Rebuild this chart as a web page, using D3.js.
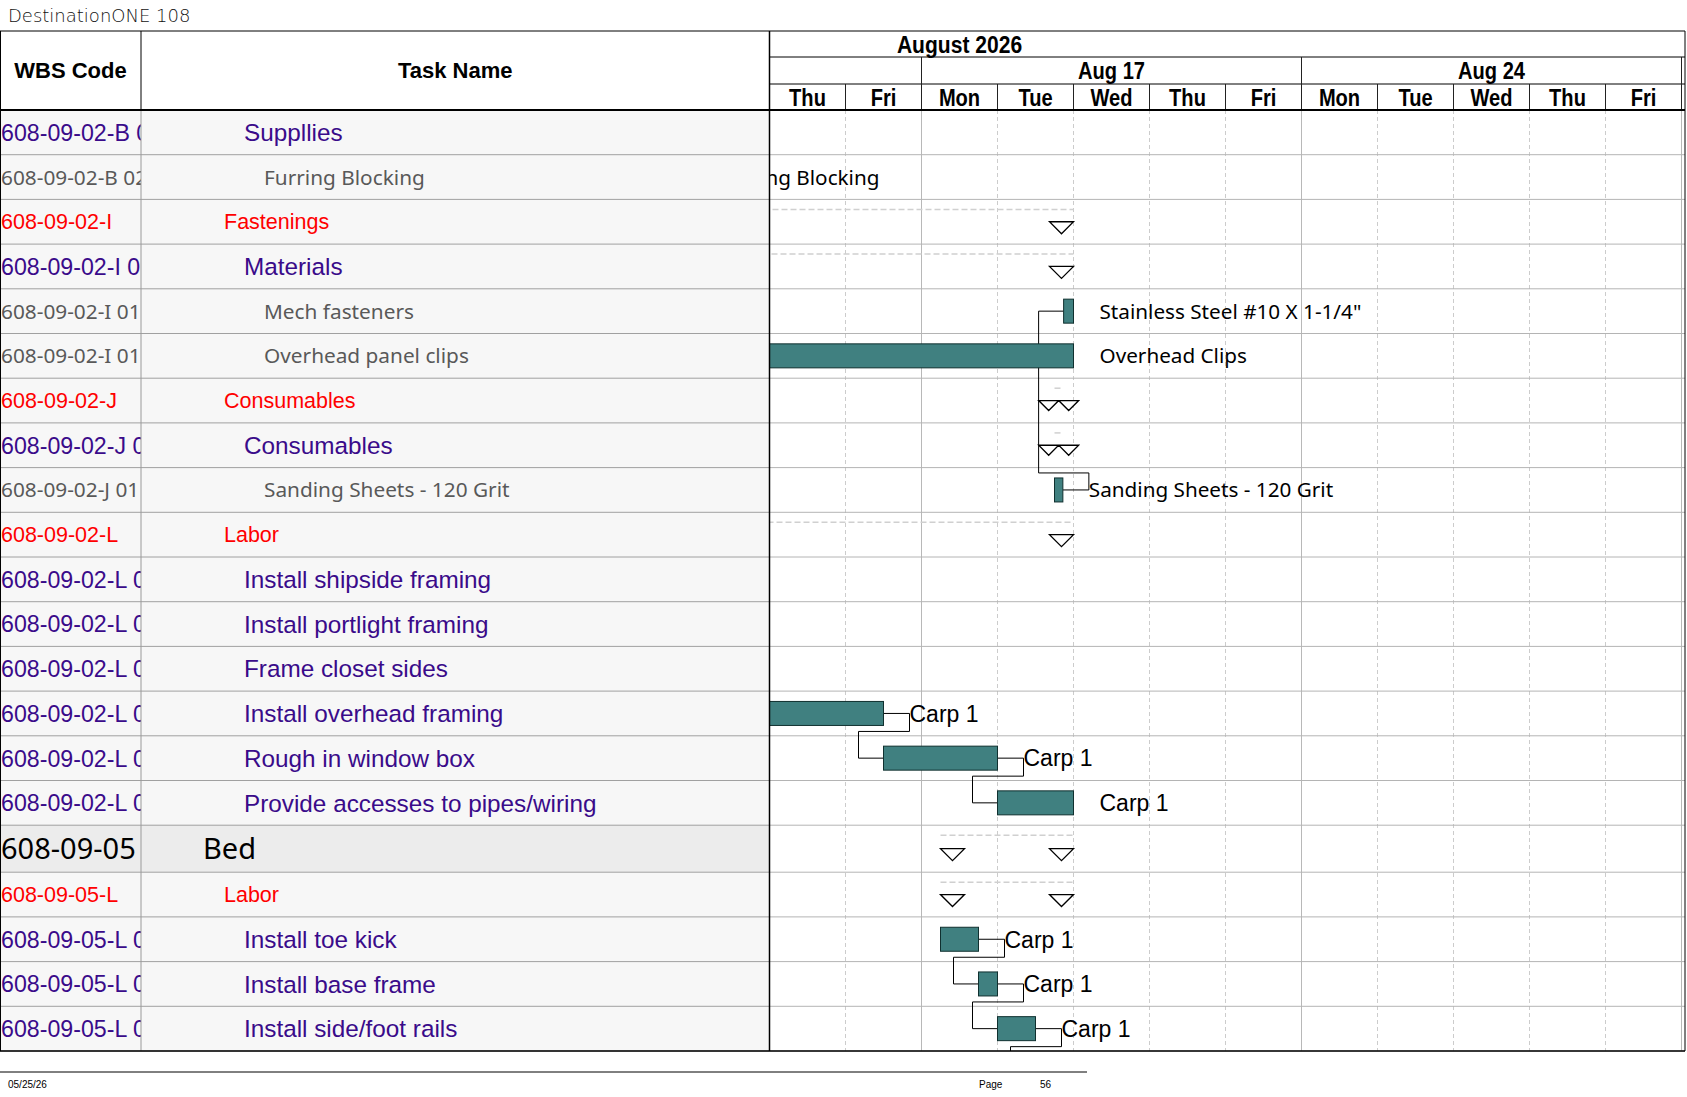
<!DOCTYPE html>
<meta charset="utf-8">
<script src="https://d3js.org/d3.v7.min.js"></script>
<style>
  body { margin: 0; background: #fff; }
</style>
<div id="chart"></div>
<script>

// page data
const pageTitle = "DestinationONE 108";
const printDate = "05/25/26";
const pageLabel = "Page";
const pageNumber = "56";

// timescale (working days only, weekends hidden)
const workDays = ["2026-08-13", "2026-08-14",
  "2026-08-17", "2026-08-18", "2026-08-19", "2026-08-20", "2026-08-21",
  "2026-08-24", "2026-08-25", "2026-08-26", "2026-08-27", "2026-08-28"];
const monthLabel = "August 2026";
const monthLabelDay = 2.5;

// table rows
const wbsCodes = [
  "608-09-02-B 01", "608-09-02-B 02", "608-09-02-I", "608-09-02-I 01",
  "608-09-02-I 01 01", "608-09-02-I 01 02", "608-09-02-J", "608-09-02-J 01",
  "608-09-02-J 01 01", "608-09-02-L", "608-09-02-L 01", "608-09-02-L 02",
  "608-09-02-L 03", "608-09-02-L 04", "608-09-02-L 05", "608-09-02-L 06",
  "608-09-05", "608-09-05-L", "608-09-05-L 01", "608-09-05-L 02", "608-09-05-L 03"];
const taskNames = [
  "Suppllies", "Furring Blocking", "Fastenings", "Materials",
  "Mech fasteners", "Overhead panel clips", "Consumables", "Consumables",
  "Sanding Sheets - 120 Grit", "Labor", "Install shipside framing", "Install portlight framing",
  "Frame closet sides", "Install overhead framing", "Rough in window box", "Provide accesses to pipes/wiring",
  "Bed", "Labor", "Install toe kick", "Install base frame", "Install side/foot rails"];
const outlineLevels = [4, 5, 3, 4, 5, 5, 3, 4, 5, 3, 4, 4, 4, 4, 4, 4, 2, 3, 4, 4, 4];

// task bars: start / finish in working days from Thu Aug 13
const barRows   = [1, 4, 5, 8, 13, 14, 15, 18, 19, 20, 21];
const barStarts = [-1.5, 3.87, -4, 3.75, -1.5, 1.5, 3.0, 2.25, 2.75, 3.0, 3.5];
const barEnds   = [-1.0, 4.0, 4.0, 3.86, 1.5, 3.0, 4.0, 2.75, 3.0, 3.5, 4.0];
const barLabels = ["Furring Blocking", "Stainless Steel #10 X 1-1/4\"", "Overhead Clips",
  "Sanding Sheets - 120 Grit", "Carp 1", "Carp 1", "Carp 1", "Carp 1", "Carp 1", "Carp 1", "Carp 1"];

// summary rows
const summaryRows   = [2, 3, 6, 7, 9, 16, 17];
const summaryStarts = [-6, -4, 3.75, 3.75, -5, 2.25, 2.25];
const summaryEnds   = [4, 4, 3.86, 3.86, 4, 4, 4];

// dependencies (bar index -> bar index)
const linkFrom = [1, 4, 5, 7, 8, 9];
const linkTo   = [3, 5, 6, 8, 9, 10];
const linkType = ["SF", "FS", "FS", "FS", "FS", "FS"];


const W = 1687, H = 1097;
const tableTop = 31, headerBottom = 110, tableBottom = 1051;
const codeRight = 141, nameRight = 769.5, ganttRight = 1685;
const arial = "'Liberation Sans', Arial, sans-serif";
const calibri = "'Noto Sans', sans-serif";

const svg = d3.select("#chart").append("svg")
  .attr("width", W).attr("height", H)
  .style("font-family", arial);

const parse = d3.timeParse("%Y-%m-%d");
const dates = workDays.map(parse);

const x = d3.scaleLinear()
  .domain([0, workDays.length])
  .range([nameRight, 1681.5]);

// row geometry
const rowH = outlineLevels.map(l => l === 2 ? 47 : 44.7);
rowH.push(44.7); // next page row
const rowTop = [headerBottom];
rowH.forEach((h, i) => rowTop.push(rowTop[i] + h));
const cy = r => rowTop[r] + rowH[r] / 2;

const defs = svg.append("defs");
function clip(id, x0, y0, w, h) {
  defs.append("clipPath").attr("id", id)
    .append("rect").attr("x", x0).attr("y", y0).attr("width", w).attr("height", h);
}
clip("clipCode", 0, headerBottom, codeRight, tableBottom - headerBottom);
clip("clipName", codeRight, headerBottom, nameRight - codeRight, tableBottom - headerBottom);
clip("clipGantt", nameRight, headerBottom, ganttRight - nameRight, tableBottom - headerBottom);
clip("clipHead", nameRight, tableTop, ganttRight - nameRight, headerBottom - tableTop);

// title
svg.append("text")
  .attr("x", 8).attr("y", 22)
  .style("font-family", "'DejaVu Sans', sans-serif")
  .style("font-weight", 200)
  .style("font-size", "18px")
  .attr("fill", "#111")
  .text(pageTitle);

// ---- left table ----
const rows = d3.range(outlineLevels.length);

svg.append("g").selectAll("rect")
  .data(rows)
  .join("rect")
  .attr("x", 0).attr("width", nameRight)
  .attr("y", d => rowTop[d]).attr("height", d => rowH[d])
  .attr("fill", d => outlineLevels[d] === 2 ? "#ececec" : "#f7f7f7");

const levelColor = {2: "#000", 3: "#ff0000", 4: "#3a0b8a", 5: "#595959"};
const nameSize = {2: 29, 3: 21.5, 4: 24.3, 5: 20.8};
const codeSize = {2: 29, 3: 21.5, 4: 23.2, 5: 20.8};

function textStyle(sel, sizes) {
  sel.attr("fill", d => levelColor[outlineLevels[d]])
    .style("font-family", d => outlineLevels[d] === 2 || outlineLevels[d] === 5 ? calibri : arial)
    .style("font-size", d => sizes[outlineLevels[d]] + "px");
}

svg.append("g").attr("clip-path", "url(#clipCode)")
  .selectAll("text")
  .data(rows)
  .join("text")
  .attr("x", 1)
  .attr("y", d => cy(d))
  .attr("dy", "0.36em")
  .call(textStyle, codeSize)
  .text(d => wbsCodes[d]);

const indent = {2: 203, 3: 224, 4: 244, 5: 264};
svg.append("g").attr("clip-path", "url(#clipName)")
  .selectAll("text")
  .data(rows)
  .join("text")
  .attr("x", d => indent[outlineLevels[d]])
  .attr("y", d => cy(d))
  .attr("dy", "0.36em")
  .call(textStyle, nameSize)
  .text(d => taskNames[d]);

// left table row lines
svg.append("g").selectAll("line")
  .data(rows)
  .join("line")
  .attr("x1", 0).attr("x2", nameRight)
  .attr("y1", d => rowTop[d + 1]).attr("y2", d => rowTop[d + 1])
  .attr("stroke", "#a0a0a0");

svg.append("line")
  .attr("x1", codeRight).attr("x2", codeRight)
  .attr("y1", headerBottom).attr("y2", tableBottom)
  .attr("stroke", "#9a9a9a");

// ---- gantt grid ----
const grid = svg.append("g");
const boundaries = d3.range(1, workDays.length + 1);
const isMonday = i => i < dates.length ? dates[i].getDay() === 1 : true;

grid.selectAll("line.v")
  .data(boundaries)
  .join("line")
  .attr("class", "v")
  .attr("x1", d => x(d)).attr("x2", d => x(d))
  .attr("y1", headerBottom).attr("y2", tableBottom)
  .attr("stroke", d => isMonday(d) ? "#b8b8b8" : "#cccccc")
  .attr("stroke-dasharray", d => isMonday(d) ? null : "4,3");

grid.selectAll("line.h")
  .data(rows)
  .join("line")
  .attr("class", "h")
  .attr("x1", nameRight).attr("x2", ganttRight)
  .attr("y1", d => rowTop[d + 1]).attr("y2", d => rowTop[d + 1])
  .attr("stroke", "#b4b4b4");

const gantt = svg.append("g").attr("clip-path", "url(#clipGantt)");

// summaries
const summaries = summaryRows.map((r, i) => ({row: r, s: summaryStarts[i], f: summaryEnds[i]}));
gantt.append("g").selectAll("line")
  .data(summaries)
  .join("line")
  .attr("x1", d => x(d.s)).attr("x2", d => x(d.f))
  .attr("y1", d => rowTop[d.row] + 10).attr("y2", d => rowTop[d.row] + 10)
  .attr("stroke", "#d0d0d0")
  .attr("stroke-width", 1.5)
  .attr("stroke-dasharray", "6,3");

function tri(x0, w, y0) {
  return `M${x0},${y0}H${x0 + w}L${x0 + w / 2},${y0 + w / 2}Z`;
}
gantt.append("g").selectAll("path")
  .data(summaries)
  .join("path")
  .attr("d", d => {
    const x0 = x(d.s), x1 = x(d.f), y0 = cy(d.row);
    if (x1 - x0 >= 48) return tri(x0, 24, y0) + tri(x1 - 24, 24, y0);
    const m = (x0 + x1) / 2;
    return tri(m - 20, 20, y0) + tri(m, 20, y0);
  })
  .attr("fill", "#fff")
  .attr("stroke", "#000")
  .attr("stroke-width", 1.3);

// bars
const bars = barRows.map((r, i) => ({row: r, s: barStarts[i], f: barEnds[i], label: barLabels[i]}));

// links
const links = linkFrom.map((a, i) => ({p: bars[a], q: bars[linkTo[i]], type: linkType[i]}));
gantt.append("g").selectAll("path")
  .data(links)
  .join("path")
  .attr("d", d => {
    const yp = cy(d.p.row), yq = cy(d.q.row);
    if (d.type === "SF") {
      const x0 = x(d.p.s), xf = x(d.q.f);
      return `M${x0},${yp}H${x0 - 25}V${yq - 17}H${xf + 26}V${yq}H${xf}`;
    }
    const x1 = x(d.p.f), xs = x(d.q.s);
    return `M${x1},${yp}H${x1 + 26}V${yp + 18}H${xs - 25}V${yq}H${xs}`;
  })
  .attr("fill", "none")
  .attr("stroke", "#000")
  .attr("stroke-width", 1);

gantt.append("g").selectAll("rect")
  .data(bars)
  .join("rect")
  .attr("x", d => x(d.s))
  .attr("width", d => x(d.f) - x(d.s))
  .attr("y", d => cy(d.row) - 12)
  .attr("height", 24)
  .attr("fill", "#408080")
  .attr("stroke", "#10302f")
  .attr("stroke-width", 1);

gantt.append("g").selectAll("text")
  .data(bars)
  .join("text")
  .attr("x", d => x(d.f) + 26)
  .attr("y", d => cy(d.row))
  .attr("dy", "0.36em")
  .attr("fill", "#000")
  .style("font-family", d => outlineLevels[d.row] === 5 ? calibri : arial)
  .style("font-size", d => outlineLevels[d.row] === 5 ? "20.7px" : "23px")
  .text(d => d.label);

// ---- header ----
const head = svg.append("g");
head.append("text")
  .attr("x", codeRight / 2).attr("y", 70).attr("dy", "0.36em")
  .attr("text-anchor", "middle")
  .style("font-weight", "bold").style("font-size", "22px")
  .text("WBS Code");
head.append("text")
  .attr("x", (codeRight + nameRight) / 2).attr("y", 70).attr("dy", "0.36em")
  .attr("text-anchor", "middle")
  .style("font-weight", "bold").style("font-size", "22px")
  .text("Task Name");

const timescale = svg.append("g").attr("clip-path", "url(#clipHead)");
const narrow = (sel) => sel
  .attr("text-anchor", "middle")
  .style("font-weight", "bold")
  .style("font-size", "24.5px");

// month tier
timescale.append("text")
  .attr("transform", `translate(${x(monthLabelDay)},44) scale(0.86,1)`)
  .attr("dy", "0.36em")
  .call(narrow)
  .text(monthLabel);

// week tier
const fmtWeek = d3.timeFormat("%b %-d");
const weekStarts = d3.range(dates.length).filter(i => dates[i].getDay() === 1);
timescale.selectAll("text.week")
  .data(weekStarts)
  .join("text")
  .attr("class", "week")
  .attr("transform", d => `translate(${x(d + 2.5)},70.5) scale(0.82,1)`)
  .attr("dy", "0.36em")
  .call(narrow)
  .text(d => fmtWeek(dates[d]));

timescale.selectAll("line.week")
  .data(weekStarts.concat([dates.length]))
  .join("line")
  .attr("class", "week")
  .attr("x1", d => x(d)).attr("x2", d => x(d))
  .attr("y1", 57).attr("y2", 84)
  .attr("stroke", "#222");

// day tier
const fmtDay = d3.timeFormat("%a");
timescale.selectAll("text.day")
  .data(d3.range(dates.length))
  .join("text")
  .attr("class", "day")
  .attr("transform", d => `translate(${x(d + 0.5)},97) scale(0.82,1)`)
  .attr("dy", "0.36em")
  .call(narrow)
  .text(d => fmtDay(dates[d]));

timescale.selectAll("line.day")
  .data(boundaries)
  .join("line")
  .attr("class", "day")
  .attr("x1", d => x(d)).attr("x2", d => x(d))
  .attr("y1", 84).attr("y2", headerBottom)
  .attr("stroke", "#222");

[57, 84].forEach(yy => {
  head.append("line")
    .attr("x1", nameRight).attr("x2", ganttRight)
    .attr("y1", yy).attr("y2", yy)
    .attr("stroke", "#000");
});

// ---- frame ----
const frame = svg.append("g").attr("stroke", "#000").attr("fill", "none");
frame.append("line").attr("x1", 0).attr("x2", ganttRight).attr("y1", tableTop).attr("y2", tableTop);
frame.append("line").attr("x1", 0).attr("x2", ganttRight).attr("y1", headerBottom).attr("y2", headerBottom)
  .attr("stroke-width", 2);
frame.append("line").attr("x1", 0).attr("x2", ganttRight).attr("y1", tableBottom).attr("y2", tableBottom)
  .attr("stroke-width", 1.5);
frame.append("line").attr("x1", 0.5).attr("x2", 0.5).attr("y1", tableTop).attr("y2", tableBottom);
frame.append("line").attr("x1", codeRight).attr("x2", codeRight).attr("y1", tableTop).attr("y2", headerBottom);
frame.append("line").attr("x1", nameRight).attr("x2", nameRight).attr("y1", tableTop).attr("y2", tableBottom)
  .attr("stroke-width", 1.5);
frame.append("line").attr("x1", ganttRight).attr("x2", ganttRight).attr("y1", tableTop).attr("y2", tableBottom);

// ---- footer ----
svg.append("line")
  .attr("x1", 0).attr("x2", 1087)
  .attr("y1", 1072).attr("y2", 1072)
  .attr("stroke", "#000");
const foot = svg.append("g").style("font-size", "10px").attr("fill", "#000");
foot.append("text").attr("x", 8).attr("y", 1088).text(printDate);
foot.append("text").attr("x", 979).attr("y", 1088).text(pageLabel);
foot.append("text").attr("x", 1040).attr("y", 1088).text(pageNumber);

</script>
